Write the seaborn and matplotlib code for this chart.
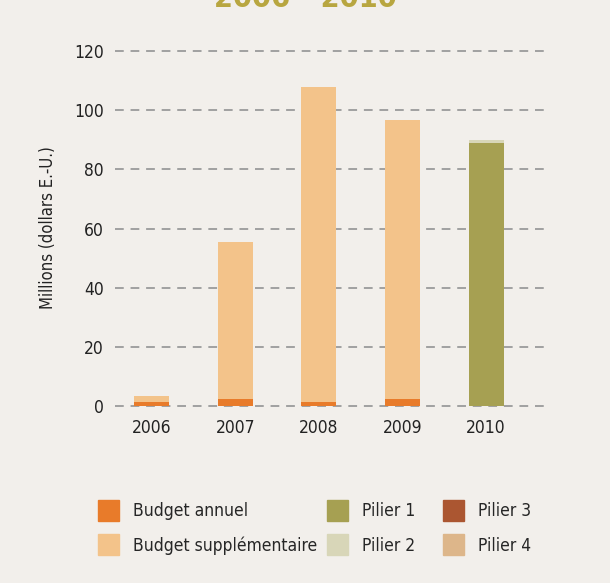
import numpy as np
import pandas as pd
import matplotlib.pyplot as plt
import seaborn as sns
from matplotlib.patches import Patch

years = ["2006", "2007", "2008", "2009", "2010"]
budget_annuel = [1.5, 2.3, 1.3, 2.3, 0]
budget_supp = [1.8, 53.0, 106.4, 94.4, 0]
pilier1 = [0, 0, 0, 0, 89.0]
pilier2 = [0, 0, 0, 0, 1.0]
pilier3 = [0, 0, 0, 0, 0]
pilier4 = [0, 0, 0, 0, 0]

c_annuel = "#e87b2a"
c_supp = "#f3c38a"
c_p1 = "#a6a052"
c_p2 = "#d8d6b8"
c_p3 = "#ab5631"
c_p4 = "#ddb68a"
bg = "#f2efeb"

sns.set_theme(style="white")
plt.rcParams['font.family'] = ['DejaVu Sans']
plt.rcParams['font.stretch'] = 'condensed'

fig = plt.figure(figsize=(6.1, 5.83), dpi=100, facecolor=bg)
ax = fig.add_axes([0.1885, 0.3002, 0.7098, 0.6175])
ax.set_facecolor(bg)

df = pd.DataFrame({"year": years, "annuel": budget_annuel, "supp": budget_supp,
                   "p1": pilier1, "p2": pilier2, "p3": pilier3, "p4": pilier4})
df["tot_budget"] = df["annuel"] + df["supp"]
df["tot_p"] = df["p1"] + df["p2"] + df["p3"] + df["p4"]

# cumulative layers, drawn from the top down
layers = [
    ("tot_budget", c_supp),
    ("annuel", c_annuel),
    ("tot_p", c_p2),
    ("p1", c_p1),
]
for col, color in layers:
    sns.barplot(data=df, x="year", y=col, order=years, color=color, width=0.42,
                saturation=1, ax=ax, zorder=3, linewidth=0)

ax.set_ylim(-0.6, 121)
ax.set_xlim(-0.44, 4.74)
ax.set_yticks(np.arange(0, 121, 20))
ax.yaxis.grid(True, color="#a0a0a0", linestyle=(0, (4.5, 3.5)), linewidth=1.4, zorder=1)
ax.xaxis.grid(False)
for s in ax.spines.values():
    s.set_visible(False)
ax.tick_params(axis="both", length=0, labelsize=12.5, colors="#222222", pad=8)
ax.set_xlabel("")
ax.set_ylabel("Millions (dollars E.-U.)", fontsize=12, color="#222222", labelpad=12)

fig.text(0.5, 1.003, "2006 - 2010", ha="center", va="center", fontsize=22,
         color="#b8a640", fontweight="bold")

groups = [
    (0.15, [c_annuel, c_supp], ["Budget annuel", "Budget supplémentaire"]),
    (0.525, [c_p1, c_p2], ["Pilier 1", "Pilier 2"]),
    (0.715, [c_p3, c_p4], ["Pilier 3", "Pilier 4"]),
]
for xpos, cols, labs in groups:
    fig.legend([Patch(color=c) for c in cols], labs, loc="upper left",
               bbox_to_anchor=(xpos, 0.155), frameon=False, fontsize=12.5,
               handlelength=1.2, handleheight=1.5, labelspacing=0.78,
               handletextpad=0.8, borderaxespad=0)

fig.savefig("out.png", dpi=100, facecolor=bg)
